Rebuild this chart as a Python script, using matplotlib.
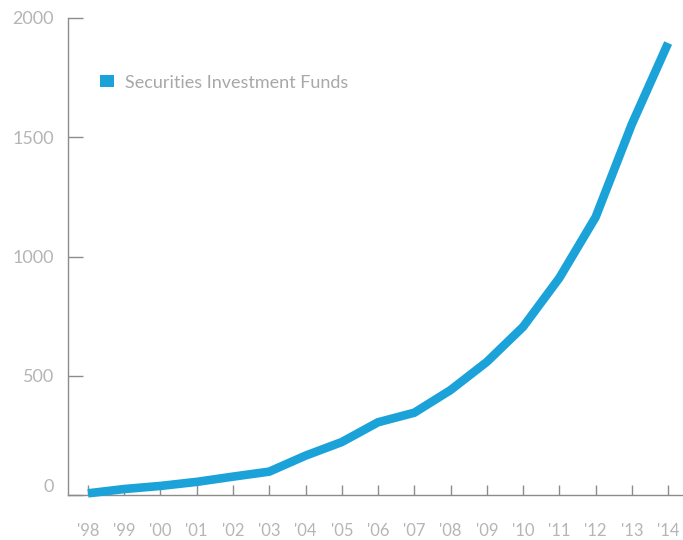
import matplotlib
matplotlib.use('Agg')
import matplotlib.pyplot as plt
from matplotlib.patches import Patch

plt.rcParams['font.family'] = ['Lato', 'DejaVu Sans']

# Securities investment funds, yearly totals
years = ["'98", "'99", "'00", "'01", "'02", "'03", "'04", "'05", "'06",
         "'07", "'08", "'09", "'10", "'11", "'12", "'13", "'14"]
funds = [7, 25, 38, 55, 77, 98, 165, 222, 305, 345, 440, 558, 705, 910,
         1165, 1555, 1895]
y_ticks = [0, 500, 1000, 1500, 2000]

LINE_BLUE = '#1ba3d9'
TEXT_GREY = '#b5b5b5'
AXIS_GREY = '#8c8c8c'

fig = plt.figure(figsize=(6.83, 5.40), dpi=100, facecolor='white')
ax = fig.add_axes([68 / 683, 45 / 540, 615 / 683, 477 / 540])

x = list(range(len(years)))
ax.plot(x, funds, color=LINE_BLUE, linewidth=6.2, solid_capstyle='butt',
        solid_joinstyle='miter', clip_on=False, zorder=5)

ax.set_xlim(-0.55, 16.41)
ax.set_ylim(0, 2000)

ax.set_xticks(x)
ax.set_xticklabels(years)
ax.set_yticks(y_ticks)
ax.set_yticklabels([str(v) for v in y_ticks])

for side in ('top', 'right'):
    ax.spines[side].set_visible(False)
for side in ('left', 'bottom'):
    ax.spines[side].set_color(AXIS_GREY)
    ax.spines[side].set_linewidth(1.0)

ax.tick_params(axis='x', direction='in', length=7.5, width=1.0,
               color=AXIS_GREY, labelcolor=TEXT_GREY, labelsize=12, pad=20)
ax.tick_params(axis='y', direction='in', length=11, width=1.0,
               color=AXIS_GREY, labelcolor=TEXT_GREY, labelsize=13, pad=10)
# the 0 label sits a little above the baseline
ax.get_yticklabels()[0].set_va('bottom')

handle = Patch(facecolor=LINE_BLUE, edgecolor='none')
leg = ax.legend([handle], ['Securities Investment Funds'],
                loc='upper left', bbox_to_anchor=(0.025, 0.915),
                frameon=False, handlelength=0.8, handleheight=0.65,
                handletextpad=0.6, prop={'size': 13})
for t in leg.get_texts():
    t.set_color('#a8a8a8')

fig.savefig('out.png', dpi=100, facecolor='white')
